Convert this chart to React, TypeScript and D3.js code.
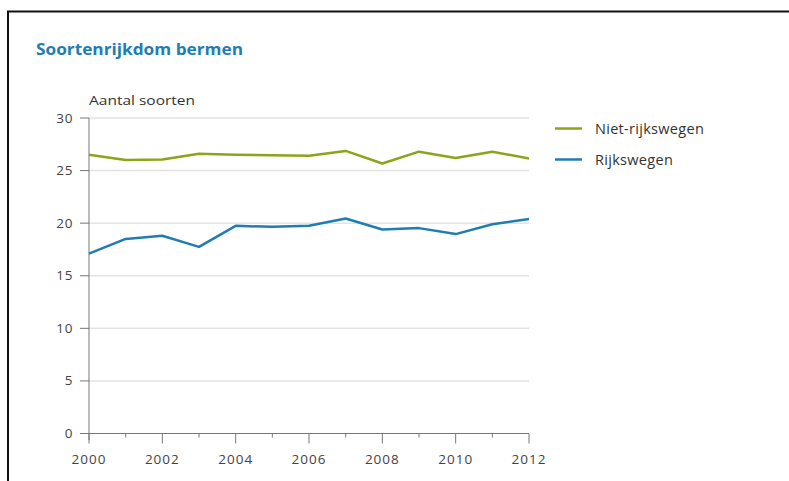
import React from "react";
import * as d3 from "d3";

const years = [2000, 2001, 2002, 2003, 2004, 2005, 2006, 2007, 2008, 2009, 2010, 2011, 2012];
const nietRijkswegen = [26.5, 26.0, 26.05, 26.6, 26.5, 26.45, 26.4, 26.87, 25.67, 26.8, 26.2, 26.8, 26.15];
const rijkswegen = [17.1, 18.5, 18.8, 17.75, 19.75, 19.65, 19.75, 20.45, 19.4, 19.53, 18.96, 19.9, 20.4];
const yTicks = [0, 5, 10, 15, 20, 25, 30];
const xLabelYears = [2000, 2002, 2004, 2006, 2008, 2010, 2012];
const seriesNames = ["Niet-rijkswegen", "Rijkswegen"];
const seriesColors = ["#8fa31a", "#1f7db3"];

const FONT = "'Open Sans', sans-serif";

export default function App() {
  const W = 789, H = 481;
  const x = d3.scaleLinear().domain([2000, 2012]).range([89, 529]);
  const y = d3.scaleLinear().domain([0, 30]).range([433.5, 118]);
  const line = d3.line<number>().x((_, i) => x(years[i])).y((d) => y(d));
  const series = [nietRijkswegen, rijkswegen];

  return (
    <svg width={W} height={H} style={{ position: "absolute", left: 0, top: 0, background: "#fff" }}>
      <rect x={0} y={0} width={W} height={H} fill="#fff" />
      {/* frame */}
      <line x1={7} x2={W} y1={11.5} y2={11.5} stroke="#111" strokeWidth={2} />
      <line x1={8} x2={8} y1={11} y2={H} stroke="#111" strokeWidth={2} />
      {/* title */}
      <text x={36} y={55} fill="#1f7db3" fontFamily={FONT} fontWeight="bold" fontSize={16.5} textLength={207} lengthAdjust="spacingAndGlyphs">
        Soortenrijkdom bermen
      </text>
      <text x={89} y={105} fill="#333" fontFamily={FONT} fontSize={13.5} textLength={106} lengthAdjust="spacingAndGlyphs">
        Aantal soorten
      </text>
      {/* gridlines */}
      {yTicks.filter((t) => t > 0).map((t) => (
        <line key={"g" + t} x1={89} x2={529} y1={y(t)} y2={y(t)} stroke="#e3e3e3" strokeWidth={1.5} />
      ))}
      {/* y ticks and labels */}
      {yTicks.map((t) => (
        <g key={"y" + t}>
          <line x1={80} x2={89} y1={y(t)} y2={y(t)} stroke="#777" strokeWidth={1} />
          <text x={73} y={y(t) + 4.5} textAnchor="end" fill="#444" fontFamily={FONT} fontSize={13.5} letterSpacing={0.6}>
            {t}
          </text>
        </g>
      ))}
      {/* axes */}
      <line x1={89} x2={89} y1={118} y2={440} stroke="#777" strokeWidth={1} />
      <line x1={80} x2={529} y1={y(0)} y2={y(0)} stroke="#777" strokeWidth={1} />
      {years.map((yr) => (
        <line
          key={"xt" + yr}
          x1={x(yr)}
          x2={x(yr)}
          y1={y(0)}
          y2={y(0) + (yr % 2 === 0 ? 10 : 4)}
          stroke="#777"
          strokeWidth={1}
        />
      ))}
      {xLabelYears.map((yr) => (
        <text key={"xl" + yr} x={x(yr)} y={464} textAnchor="middle" fill="#444" fontFamily={FONT} fontSize={13.5} letterSpacing={1}>
          {yr}
        </text>
      ))}
      {/* lines */}
      {series.map((s, i) => (
        <path key={"s" + i} d={line(s) || ""} fill="none" stroke={seriesColors[i]} strokeWidth={2.5} strokeLinejoin="round" />
      ))}
      {/* legend */}
      {seriesNames.map((n, i) => (
        <g key={"l" + i}>
          <line x1={555} x2={582} y1={128.5 + i * 31} y2={128.5 + i * 31} stroke={seriesColors[i]} strokeWidth={2.5} />
          <text x={595} y={133.5 + i * 31} fill="#333" fontFamily={FONT} fontSize={14.5} letterSpacing={0.3}>
            {n}
          </text>
        </g>
      ))}
    </svg>
  );
}
